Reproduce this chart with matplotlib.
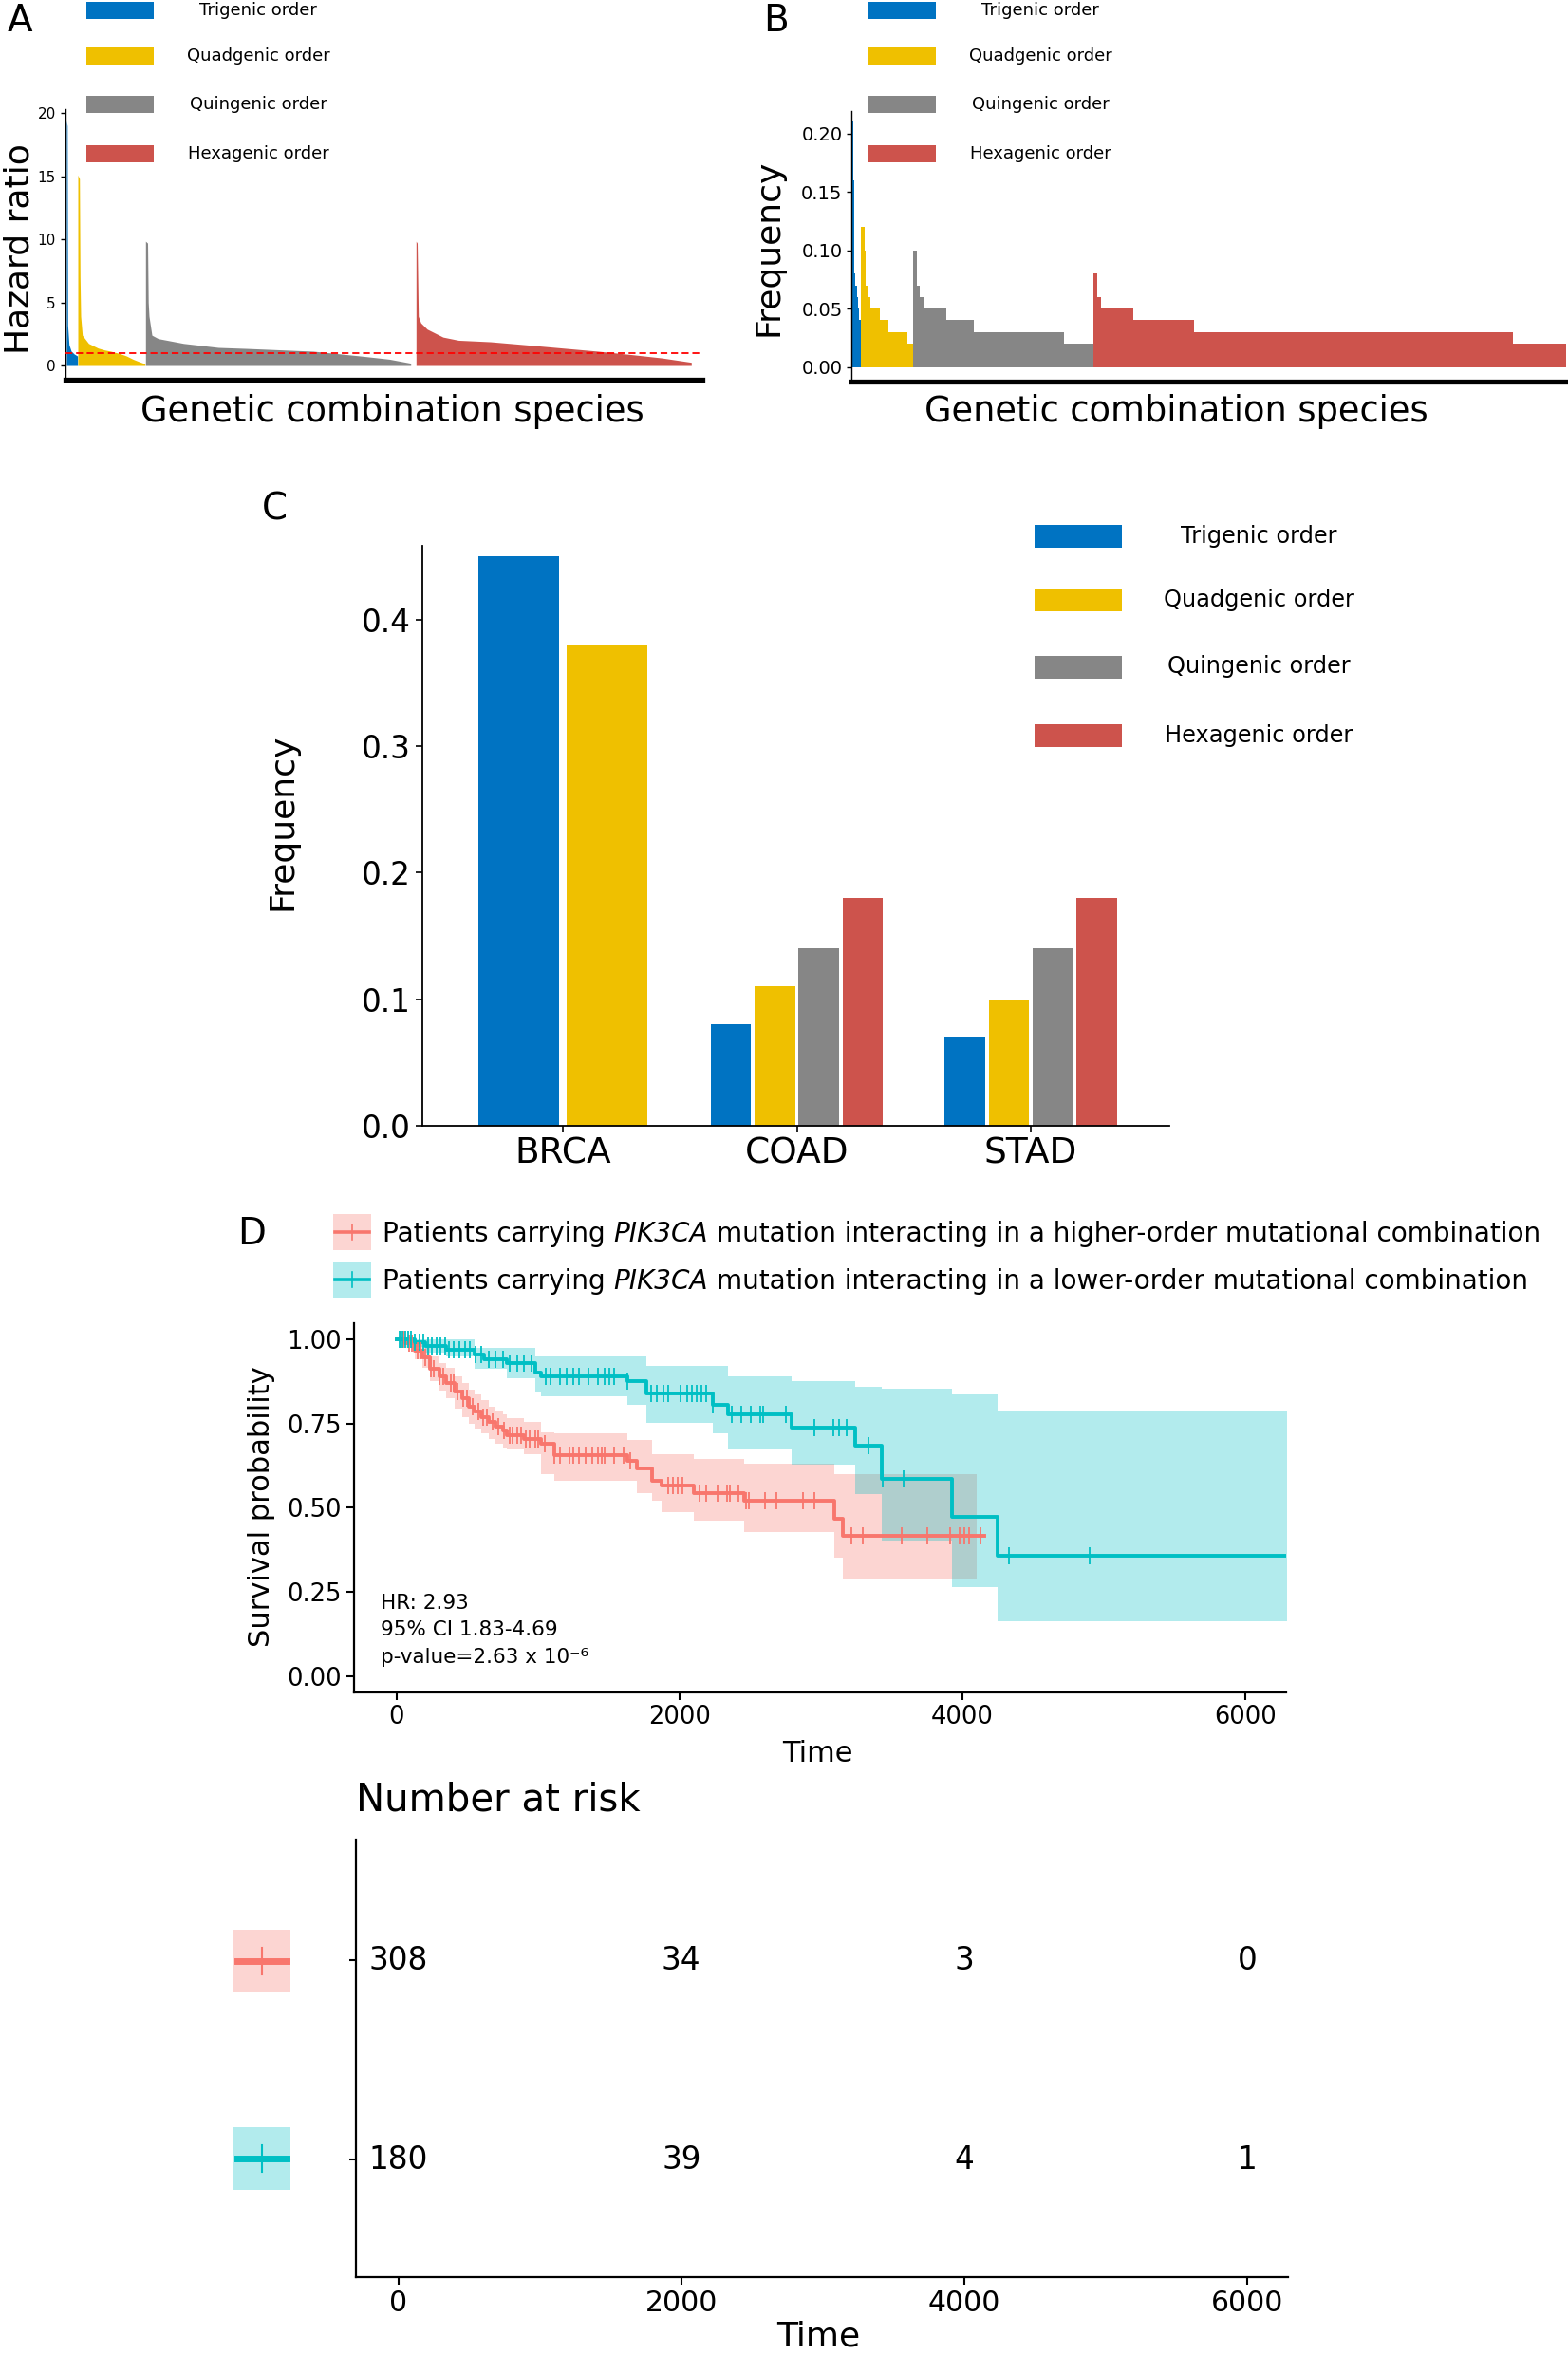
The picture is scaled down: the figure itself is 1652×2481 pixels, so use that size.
import numpy as np
import matplotlib
matplotlib.use("Agg")
import matplotlib.pyplot as plt
from matplotlib.patches import Rectangle
from matplotlib.lines import Line2D

plt.rcParams['font.family'] = ['DejaVu Sans']
plt.rcParams['mathtext.fontset'] = 'dejavusans'

# ---------------- data ----------------
orders = ["Trigenic order", "Quadgenic order", "Quingenic order", "Hexagenic order"]
order_colors = ["#0073C2", "#EFC000", "#868686", "#CD534C"]

# Panel A: sorted hazard ratios (species index, HR)
hr_tri_idx = [0, 0.8, 1.3, 2.7, 5, 8.3, 11.7]
hr_tri = [19.4, 19.0, 3.2, 1.65, 1.13, 0.9, 0.75]
hr_quad_idx = [12, 13.7, 14.3, 15, 16.7, 23.3, 33.3, 40, 46.7, 56.7, 63.3, 70, 76.7, 82.7]
hr_quad = [15.1, 14.8, 7.0, 3.9, 2.4, 1.75, 1.38, 1.23, 1.13, 0.93, 0.75, 0.5, 0.3, 0.13]
hr_quin_idx = [83.3, 85.5, 86.2, 87, 90, 96.7, 123.3, 160, 190, 260, 310, 340, 362.7]
hr_quin = [9.85, 9.7, 5.0, 3.9, 2.4, 2.13, 1.75, 1.43, 1.35, 1.13, 0.75, 0.5, 0.18]
hr_hexa_idx = [368.3, 369.5, 370.7, 373.3, 380, 396.7, 413, 446.7, 493, 560, 593, 627, 658.3]
hr_hexa = [9.85, 9.7, 3.9, 3.38, 2.88, 2.25, 2.0, 1.88, 1.58, 1.13, 0.88, 0.6, 0.25]
hr_reference = 1.0

# Panel B: frequency levels and number of species at each level
fq_tri = [0.21, 0.16, 0.08, 0.07, 0.06, 0.05, 0.04]
n_tri = [2, 1, 3, 3, 3, 2, 3]
fq_quad = [0.12, 0.10, 0.07, 0.06, 0.05, 0.04, 0.03, 0.02]
n_quad = [8, 3, 3, 7, 20, 17, 40, 13]
fq_quin = [0.10, 0.07, 0.06, 0.05, 0.04, 0.03, 0.02]
n_quin = [8, 5, 9, 47, 59, 189, 63]
fq_hexa = [0.08, 0.06, 0.05, 0.04, 0.03, 0.02]
n_hexa = [8, 8, 67, 128, 672, 113]

# Panel C
cancers = ["BRCA", "COAD", "STAD"]
freq_tri_c = [0.45, 0.08, 0.07]
freq_quad_c = [0.38, 0.11, 0.10]
freq_quin_c = [None, 0.14, 0.14]
freq_hexa_c = [None, 0.18, 0.18]

# Panel D: Kaplan-Meier (higher-order = red, lower-order = teal)
km_hi_t = [0, 60, 126, 180, 238, 300, 350, 410, 462, 510, 552, 600, 650, 700, 753, 776, 900,
           1022, 1112, 1628, 1700, 1807, 1874, 2099, 2457, 3097, 3153]
km_hi_s = [1.0, 0.988, 0.965, 0.946, 0.913, 0.89, 0.871, 0.845, 0.824, 0.80, 0.786, 0.77, 0.755,
           0.742, 0.73, 0.716, 0.705, 0.69, 0.655, 0.64, 0.618, 0.58, 0.566, 0.543, 0.522, 0.468, 0.416]
km_hi_up = [1.0, 1.0, 0.99, 0.975, 0.95, 0.93, 0.915, 0.89, 0.87, 0.85, 0.835, 0.82, 0.80,
            0.785, 0.776, 0.765, 0.755, 0.725, 0.72, 0.70, 0.70, 0.66, 0.66, 0.645, 0.63, 0.60, 0.599]
km_hi_lo = [1.0, 0.975, 0.94, 0.915, 0.875, 0.847, 0.825, 0.795, 0.77, 0.75, 0.735, 0.72, 0.705,
            0.69, 0.68, 0.674, 0.66, 0.60, 0.58, 0.58, 0.543, 0.522, 0.486, 0.462, 0.429, 0.353, 0.29]
km_hi_end, km_hi_ci_end = 4157, 4100
cens_hi = [30, 50, 90, 110, 150, 170, 200, 240, 260, 300, 330, 380, 400, 430, 470, 500, 540, 580,
           610, 640, 680, 720, 760, 800, 820, 850, 880, 910, 940, 980, 1000, 1050, 1112, 1157, 1224,
           1247, 1292, 1336, 1381, 1426, 1448, 1471, 1538, 1606, 1650, 1919, 1953, 1986, 2020, 2143,
           2188, 2267, 2334, 2357, 2413, 2469, 2491, 2603, 2682, 2872, 2951, 3218, 3296, 3572, 3749,
           3913, 3981, 4015, 4048, 4127]

km_lo_t = [0, 126, 204, 350, 552, 619, 776, 978, 1022, 1628, 1762, 2233, 2345, 2794, 3242, 3432, 3926, 4247]
km_lo_s = [1.0, 0.99, 0.98, 0.97, 0.955, 0.94, 0.93, 0.90, 0.89, 0.875, 0.838, 0.805, 0.777, 0.737,
           0.683, 0.585, 0.472, 0.357]
km_lo_up = [1.0, 1.0, 1.0, 1.0, 0.974, 0.974, 0.974, 0.95, 0.95, 0.95, 0.92, 0.92, 0.89, 0.875,
            0.858, 0.852, 0.835, 0.788]
km_lo_lo = [1.0, 0.977, 0.96, 0.95, 0.913, 0.913, 0.885, 0.843, 0.831, 0.805, 0.753, 0.72, 0.676,
            0.627, 0.542, 0.402, 0.266, 0.162]
km_lo_end, km_lo_ci_end = 6300, 6300
cens_lo = [20, 40, 60, 80, 100, 130, 160, 190, 220, 250, 280, 310, 340, 370, 400, 440, 480, 520, 560,
           600, 650, 700, 750, 800, 850, 900, 950, 1056, 1090, 1157, 1202, 1247, 1292, 1359, 1426,
           1471, 1505, 1538, 1628, 1796, 1841, 1886, 1919, 2009, 2054, 2087, 2121, 2154, 2188, 2233,
           2368, 2435, 2502, 2570, 2592, 2749, 2951, 3085, 3130, 3180, 3338, 3437, 3584, 4330, 4902]

km_colors = ["#F8766D", "#00BFC4"]
km_legend = [("Patients carrying", "PIK3CA", "mutation interacting in a higher-order mutational combination"),
             ("Patients carrying", "PIK3CA", "mutation interacting in a lower-order mutational combination")]
hr_text = ["HR: 2.93", "95% CI 1.83-4.69", "p-value=2.63 x 10\u207b\u2076"]

risk_times = [0, 2000, 4000, 6000]
risk_hi = [308, 34, 3, 0]
risk_lo = [180, 39, 4, 1]

# ---------------- figure ----------------
W, H = 1652, 2481
DPI = 100
fig = plt.figure(figsize=(W / DPI, H / DPI), dpi=DPI)
renderer = fig.canvas.get_renderer()


def ax_at(l, t, r, b):
    return fig.add_axes([l / W, 1 - b / H, (r - l) / W, (b - t) / H])


def ftext(x, y, s, **kw):
    return fig.text(x / W, 1 - y / H, s, **kw)


def frect(x0, y0, x1, y1, **kw):
    fig.patches.append(Rectangle((x0 / W, 1 - y1 / H), (x1 - x0) / W, (y1 - y0) / H,
                                 transform=fig.transFigure, figure=fig, **kw))


def fline(xs, ys, **kw):
    fig.lines.append(Line2D([x / W for x in xs], [1 - y / H for y in ys],
                            transform=fig.transFigure, figure=fig, **kw))


def style_ab(ax):
    for s in ("top", "right"):
        ax.spines[s].set_visible(False)
    ax.spines["left"].set_linewidth(1.0)
    ax.spines["bottom"].set_linewidth(3.8)
    ax.set_xticks([])
    ax.tick_params(axis="y", length=3.5, width=1.0)


# ---- Panel A ----
axA = ax_at(68.5, 115, 740, 399.5)
for idx, vals, c in zip([hr_tri_idx, hr_quad_idx, hr_quin_idx, hr_hexa_idx],
                        [hr_tri, hr_quad, hr_quin, hr_hexa], order_colors):
    axA.fill_between(idx, vals, 0, color=c, lw=0)
axA.axhline(hr_reference, color="red", ls=(0, (4, 2.2)), lw=1.3, zorder=5)
axA.set_xlim(-1.5, 670)
axA.set_ylim(-1.09, 20.32)
axA.set_yticks([0, 5, 10, 15, 20])
axA.tick_params(axis="y", labelsize=11)
style_ab(axA)

# ---- Panel B ----
axB = ax_at(897.3, 116.7, 1652, 401.7)
start = 0
for fq, n, c in zip([fq_tri, fq_quad, fq_quin, fq_hexa], [n_tri, n_quad, n_quin, n_hexa], order_colors):
    lefts = start + np.concatenate([[0], np.cumsum(n)[:-1]])
    axB.bar(lefts, fq, width=n, align="edge", color=c, lw=0)
    start += sum(n)
axB.set_xlim(-2, 1507)
axB.set_ylim(-0.0122, 0.2195)
axB.set_yticks([0, 0.05, 0.10, 0.15, 0.20])
axB.set_yticklabels(["0.00", "0.05", "0.10", "0.15", "0.20"])
axB.tick_params(axis="y", labelsize=14)
style_ab(axB)

# A/B labels and legends
ftext(21, 22, "A", fontsize=28, ha="center", va="center")
ftext(818, 22, "B", fontsize=28, ha="center", va="center")
ftext(21, 262, "Hazard ratio", fontsize=26, rotation=90, ha="center", va="center")
ftext(810, 261, "Frequency", fontsize=26, rotation=90, ha="center", va="center")
ftext(413, 433, "Genetic combination species", fontsize=26.5, ha="center", va="center")
ftext(1239, 433, "Genetic combination species", fontsize=26.5, ha="center", va="center")
for i, (lab, c) in enumerate(zip(orders, order_colors)):
    yc = [11, 59, 110, 162][i]
    frect(91, yc - 9, 162, yc + 9, color=c, lw=0)
    ftext(272, yc, lab, fontsize=13, ha="center", va="center")
    frect(915, yc - 9, 986, yc + 9, color=c, lw=0)
    ftext(1096, yc, lab, fontsize=13, ha="center", va="center")

# ---- Panel C ----
axC = ax_at(445, 575, 1231.6, 1186)
series_c = [freq_tri_c, freq_quad_c, freq_quin_c, freq_hexa_c]
total_w = 0.75
for i, cat in enumerate(cancers):
    present = [j for j in range(4) if series_c[j][i] is not None]
    k = len(present)
    slot = total_w / k
    for m, j in enumerate(present):
        axC.bar(i + (m - (k - 1) / 2) * slot, series_c[j][i], width=slot * 0.92,
                color=order_colors[j], lw=0)
axC.set_xlim(-0.6, 2.59)
axC.set_ylim(0, 0.4585)
axC.set_xticks(range(len(cancers)))
axC.set_xticklabels(cancers)
axC.set_yticks([0, 0.1, 0.2, 0.3, 0.4])
axC.tick_params(axis="x", labelsize=27, length=5, width=1.2)
axC.tick_params(axis="y", labelsize=23.5, length=5, width=1.2)
for s in ("top", "right"):
    axC.spines[s].set_visible(False)
for s in ("left", "bottom"):
    axC.spines[s].set_linewidth(1.3)
ftext(289, 536, "C", fontsize=28, ha="center", va="center")
ftext(297, 866, "Frequency", fontsize=26, rotation=90, ha="center", va="center")
for i, (lab, c) in enumerate(zip(orders, order_colors)):
    yc = [565, 632.5, 702.5, 775][i]
    frect(1090, yc - 12, 1182, yc + 12, color=c, lw=0)
    ftext(1326, yc, lab, fontsize=17.3, ha="center", va="center")

# ---- Panel D ----
axD = ax_at(373, 1393.5, 1355, 1783)
km_sets = [
    (km_hi_t, km_hi_s, km_hi_up, km_hi_lo, km_hi_end, km_hi_ci_end, cens_hi),
    (km_lo_t, km_lo_s, km_lo_up, km_lo_lo, km_lo_end, km_lo_ci_end, cens_lo),
]
for (t, s, up, lo, t_end, ci_end, cens), c in zip(km_sets, km_colors):
    tc = np.append(np.asarray(t, float), ci_end)
    axD.fill_between(tc, np.append(lo, lo[-1]), np.append(up, up[-1]), step="post",
                     color=c, alpha=0.3, lw=0)
for (t, s, up, lo, t_end, ci_end, cens), c in zip(km_sets, km_colors):
    t = np.asarray(t, float)
    s = np.asarray(s, float)
    axD.step(np.append(t, t_end), np.append(s, s[-1]), where="post", color=c, lw=2.8, zorder=4)
    ct = np.asarray(cens, float)
    cs = s[np.searchsorted(t, ct, side="right") - 1]
    axD.plot(ct, cs, ls="none", marker="|", ms=12.5, mew=1.3, color=c, zorder=5)
axD.set_xlim(-302, 6289)
axD.set_ylim(-0.048, 1.049)
axD.set_xticks(risk_times)
axD.set_yticks([0, 0.25, 0.5, 0.75, 1.0])
axD.set_yticklabels(["0.00", "0.25", "0.50", "0.75", "1.00"])
axD.tick_params(labelsize=18.5, length=6, width=1.5)
for s_ in ("top", "right"):
    axD.spines[s_].set_visible(False)
for s_ in ("left", "bottom"):
    axD.spines[s_].set_linewidth(1.6)
ftext(401, 1695, hr_text[0], fontsize=15.5, ha="left", va="baseline")
ftext(401, 1723, hr_text[1], fontsize=15.5, ha="left", va="baseline")
ftext(401, 1752, hr_text[2], fontsize=15.5, ha="left", va="baseline")
ftext(265, 1300, "D", fontsize=28, ha="center", va="center")
ftext(275, 1587, "Survival probability", fontsize=22, rotation=90, ha="center", va="center")
ftext(861, 1847, "Time", fontsize=22, ha="center", va="center")

LEG_FS = 20.1
probe1 = ftext(0, -500, "a a", fontsize=LEG_FS)
probe2 = ftext(0, -500, "aa", fontsize=LEG_FS)
space_w = probe1.get_window_extent(renderer).width - probe2.get_window_extent(renderer).width
probe1.remove()
probe2.remove()
for yc, pieces, c in zip([1298, 1348], km_legend, km_colors):
    frect(351, yc - 19, 391, yc + 19, color=c, alpha=0.3, lw=0)
    fline([353, 389], [yc, yc], color=c, lw=2.6)
    fline([371, 371], [yc - 8, yc + 8], color=c, lw=1.2)
    x = 403.0
    for piece, style in zip(pieces, ["normal", "italic", "normal"]):
        t_ = ftext(x, yc + 10, piece, fontsize=LEG_FS, style=style, ha="left", va="baseline")
        x += t_.get_window_extent(renderer).width + space_w

# ---- Risk table ----
axR = ax_at(374.6, 1938, 1357, 2399)
for yrow, counts in zip([2, 1], [risk_hi, risk_lo]):
    for tt, n in zip(risk_times, counts):
        axR.text(tt, yrow, str(n), fontsize=23.5, ha="center", va="center")
axR.set_xlim(-302, 6289)
axR.set_ylim(0.41, 2.605)
axR.set_xticks(risk_times)
axR.set_yticks([1, 2])
axR.set_yticklabels(["", ""])
axR.tick_params(axis="x", labelsize=21.5, length=6, width=1.5)
axR.tick_params(axis="y", length=5, width=1.5)
for s_ in ("top", "right"):
    axR.spines[s_].set_visible(False)
for s_ in ("left", "bottom"):
    axR.spines[s_].set_linewidth(1.6)
ftext(375, 1896, "Number at risk", fontsize=29, ha="left", va="center")
ftext(862, 2462, "Time", fontsize=26, ha="center", va="center")
for yc, c in zip([2066, 2274], km_colors):
    frect(245, yc - 33, 306, yc + 33, color=c, alpha=0.3, lw=0)
    fline([250, 302], [yc, yc], color=c, lw=5)
    fline([276, 276], [yc - 14, yc + 14], color=c, lw=1.5)

fig.savefig("out.png", dpi=DPI)
